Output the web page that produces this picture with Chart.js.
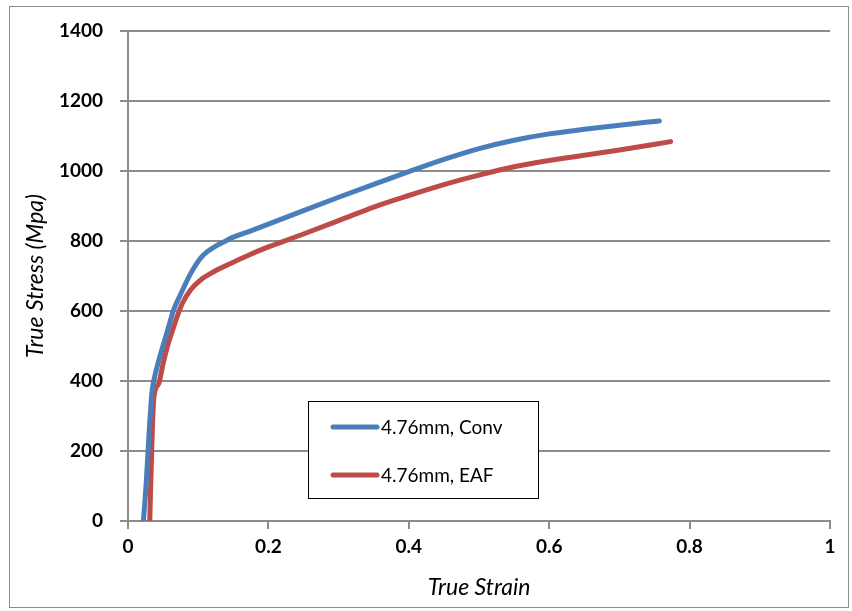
<!DOCTYPE html>
<html>
<head>
<meta charset="utf-8">
<script src="https://cdn.jsdelivr.net/npm/chart.js@4.4.1/dist/chart.umd.min.js"></script>
<style>
  html, body { margin: 0; padding: 0; background: #fff; }
  #wrap { width: 852px; height: 611px; position: relative; }
</style>
</head>
<body>
<div id="wrap"><canvas id="stressStrain"></canvas></div>
<script>
// Series data: true strain vs true stress (MPa)
const seriesNames = ['4.76mm, Conv', '4.76mm, EAF'];

const convStrain = [0.022, 0.026, 0.030, 0.034, 0.037, 0.044, 0.051, 0.058, 0.065, 0.075, 0.089, 0.103, 0.112, 0.122, 0.136, 0.15, 0.175, 0.2, 0.25, 0.3, 0.35, 0.4, 0.45, 0.5, 0.55, 0.6, 0.65, 0.7, 0.757];
const convStress = [0, 110, 250, 366, 403, 460, 508, 556, 603, 648, 706, 750, 768, 782, 797, 811, 829, 848, 887, 925, 962, 998, 1033, 1064, 1088, 1106, 1119, 1131, 1143];

const eafStrain = [0.031, 0.033, 0.035, 0.037, 0.044, 0.050, 0.056, 0.063, 0.070, 0.077, 0.089, 0.103, 0.122, 0.14, 0.17, 0.2, 0.25, 0.3, 0.35, 0.4, 0.45, 0.5, 0.55, 0.6, 0.65, 0.7, 0.773];
const eafStress = [0, 150, 280, 355, 394, 450, 498, 542, 584, 620, 660, 688, 712, 730, 758, 783, 820, 858, 897, 930, 961, 988, 1012, 1030, 1045, 1060, 1084];

const xTicks = { min: 0, max: 1, step: 0.2 };
const yTicks = { min: 0, max: 1400, step: 200 };

const toPoints = (xs, ys) => xs.map((x, i) => ({ x, y: ys[i] }));

const gridGrey = '#8c8c8c';
const tickFont = { family: 'Lato', size: 19, weight: 'bold' };
const titleFont = { family: 'Lato', size: 23, style: 'italic' };

// Outer frame around the whole chart
const frame = {
  id: 'frame',
  beforeDraw(chart) {
    const ctx = chart.ctx;
    ctx.save();
    ctx.fillStyle = '#fff';
    ctx.fillRect(0, 0, chart.width, chart.height);
    ctx.strokeStyle = '#8c8c8c';
    ctx.lineWidth = 1;
    ctx.strokeRect(9.5, 6.5, 839, 601);
    ctx.restore();
  },
};

// Boxed legend sitting inside the plot area
const boxLegend = {
  id: 'boxLegend',
  afterDraw(chart) {
    const ctx = chart.ctx;
    const x = 308.5, y = 401.5, w = 230, h = 97;
    ctx.save();
    ctx.fillStyle = '#fff';
    ctx.fillRect(x, y, w, h);
    ctx.strokeStyle = '#000';
    ctx.lineWidth = 1;
    ctx.strokeRect(x, y, w, h);
    ctx.font = '19px Lato';
    ctx.textBaseline = 'middle';
    ctx.lineCap = 'round';
    chart.data.datasets.forEach((ds, i) => {
      const ly = 427 + i * 48;
      ctx.strokeStyle = ds.borderColor;
      ctx.lineWidth = 5;
      ctx.beginPath();
      ctx.moveTo(333, ly);
      ctx.lineTo(377, ly);
      ctx.stroke();
      ctx.fillStyle = '#000';
      ctx.fillText(ds.label, 381, ly + 1);
    });
    ctx.restore();
  },
};

new Chart(document.getElementById('stressStrain'), {
  type: 'line',
  data: {
    datasets: [
      {
        label: seriesNames[0],
        data: toPoints(convStrain, convStress),
        borderColor: '#4a7ebb',
        borderWidth: 5,
        pointRadius: 0,
        cubicInterpolationMode: 'monotone',
        borderCapStyle: 'round',
        borderJoinStyle: 'round',
      },
      {
        label: seriesNames[1],
        data: toPoints(eafStrain, eafStress),
        borderColor: '#be4b48',
        borderWidth: 5,
        pointRadius: 0,
        cubicInterpolationMode: 'monotone',
        borderCapStyle: 'round',
        borderJoinStyle: 'round',
      },
    ],
  },
  options: {
    responsive: true,
    maintainAspectRatio: false,
    animation: false,
    layout: { padding: { left: 10, right: 22, top: 31, bottom: 10 } },
    scales: {
      x: {
        type: 'linear',
        min: xTicks.min,
        max: xTicks.max,
        ticks: {
          stepSize: xTicks.step, color: '#000', font: tickFont, padding: 6, maxRotation: 0,
          callback: (v) => String(+v.toFixed(1)),
        },
        grid: { drawOnChartArea: false, drawTicks: true, tickLength: 8, color: gridGrey, lineWidth: 2 },
        border: { color: gridGrey, width: 2 },
        title: { display: true, text: 'True Strain', color: '#000', font: titleFont, padding: { bottom: 0 } },
        afterFit: (scale) => { scale.height = 80; },
      },
      y: {
        min: yTicks.min,
        max: yTicks.max,
        ticks: {
          stepSize: yTicks.step, color: '#000', font: tickFont, padding: 17,
          callback: (v) => String(v),
        },
        grid: { color: gridGrey, lineWidth: 2, tickLength: 8 },
        border: { color: gridGrey, width: 2 },
        title: { display: true, text: 'True Stress (Mpa)', color: '#000', font: titleFont, padding: { top: 12 } },
        afterFit: (scale) => { scale.width = 118; },
      },
    },
    plugins: {
      legend: { display: false },
      tooltip: { enabled: false },
    },
  },
  plugins: [frame, boxLegend],
});
</script>
</body>
</html>
